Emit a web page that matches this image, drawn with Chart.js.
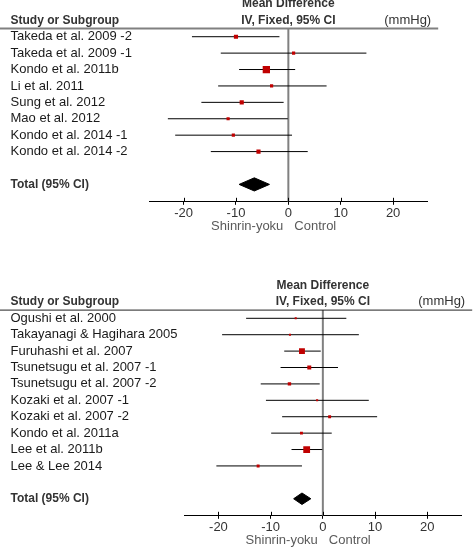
<!DOCTYPE html>
<html>
<head>
<meta charset="utf-8">
<script src="https://cdn.jsdelivr.net/npm/chart.js@4.4.0/dist/chart.umd.min.js"></script>
<style>
  body { margin: 0; background: #fff; }
  .plot { position: absolute; left: 0; }
</style>
</head>
<body>
<div class="plot" style="top:0;width:473px;height:260px"><canvas id="topPlot" width="473" height="260"></canvas></div>
<div class="plot" style="top:260px;width:473px;height:287px"><canvas id="bottomPlot" width="473" height="287"></canvas></div>
<script>
// tick labels shared by both plots
const tickVals = [-20, -10, 0, 10, 20];

// top plot
const topStudies = [
  "Takeda et al. 2009 -2", "Takeda et al. 2009 -1", "Kondo et al. 2011b", "Li et al. 2011",
  "Sung et al. 2012", "Mao et al. 2012", "Kondo et al. 2014 -1", "Kondo et al. 2014 -2"
];
const topMD = [-10.0, 1.0, -4.2, -3.2, -8.9, -11.5, -10.5, -5.7];
const topLo = [-18.4, -12.9, -9.4, -13.4, -16.6, -23.0, -21.6, -14.8];
const topHi = [-1.7, 14.9, 1.3, 7.3, -0.9, -0.1, 0.7, 3.7];
const topWeight = [12, 7, 37, 7, 12, 7, 7, 12];
const topTotal = [-6.5, -9.4, -3.6]; // estimate, lower, upper

// bottom plot
const bottomStudies = [
  "Ogushi et al. 2000", "Takayanagi & Hagihara 2005", "Furuhashi et al. 2007",
  "Tsunetsugu et al. 2007 -1", "Tsunetsugu et al. 2007 -2", "Kozaki et al. 2007 -1",
  "Kozaki et al. 2007 -2", "Kondo et al. 2011a", "Lee et al. 2011b", "Lee & Lee 2014"
];
const bottomMD = [-5.2, -6.3, -4.0, -2.6, -6.4, -1.1, 1.3, -4.1, -3.1, -12.4];
const bottomLo = [-14.7, -19.3, -7.4, -8.1, -11.9, -10.9, -7.8, -9.9, -6.0, -20.4];
const bottomHi = [4.5, 6.9, -0.4, 2.9, -0.6, 8.8, 10.4, 1.7, -0.1, -4.0];
const bottomWeight = [3, 3, 24, 11, 8, 3, 6, 6, 32, 6];
const bottomTotal = [-4.0, -5.6, -2.3];

const FONT = '"Liberation Sans", Arial, sans-serif';
Chart.defaults.font.family = FONT;

// texts, header rule and the upper half of the tick marks
const forestText = {
  id: "forestText",
  afterDraw(chart, args, opts) {
    const { ctx, chartArea, scales: { x, y } } = chart;
    const area = chartArea;
    ctx.save();

    ctx.strokeStyle = opts.ruleColor;
    ctx.lineWidth = opts.ruleWidth;
    ctx.beginPath();
    ctx.moveTo(0, area.top);
    ctx.lineTo(area.right + 10.5, area.top);
    ctx.stroke();

    ctx.strokeStyle = "#000";
    ctx.lineWidth = 1;
    tickVals.forEach((v) => {
      const px = Math.round(x.getPixelForValue(v)) + 0.5;
      ctx.beginPath();
      ctx.moveTo(px, area.bottom - 4);
      ctx.lineTo(px, area.bottom);
      ctx.stroke();
    });

    ctx.textBaseline = "middle";
    ctx.textAlign = "left";
    ctx.fillStyle = "#1a1a1a";
    ctx.font = "13px " + FONT;
    opts.studies.forEach((s, i) => ctx.fillText(s, 10.5, y.getPixelForValue(i)));

    ctx.fillStyle = "#333";
    ctx.font = "bold 12px " + FONT;
    ctx.fillText("Study or Subgroup", 10.5, y.getPixelForValue(-1));
    ctx.fillText("Total (95% CI)", 10.5, y.getPixelForValue(opts.studies.length + 1));

    const x0 = x.getPixelForValue(0);
    ctx.textAlign = "center";
    ctx.fillText("Mean Difference", x0, y.getPixelForValue(-2));
    ctx.fillText("IV, Fixed, 95% CI", x0, y.getPixelForValue(-1));

    ctx.font = "13px " + FONT;
    ctx.textAlign = "right";
    ctx.fillText("(mmHg)", area.right + 3.5, y.getPixelForValue(-1));

    ctx.fillStyle = "#5a5a5a";
    ctx.fillText("Shinrin-yoku", x0 - 5, area.bottom + 24.5);
    ctx.textAlign = "left";
    ctx.fillText("Control", x0 + 6, area.bottom + 24.5);
    ctx.restore();
  }
};

function makeForest(id, studies, md, lo, hi, weight, total, pad, yMax, diamondH, ruleColor, ruleWidth) {
  const totalRow = studies.length + 1;
  const datasets = [];

  // squares
  datasets.push({
    data: md.map((v, i) => ({ x: v, y: i })),
    showLine: false,
    pointStyle: "rect",
    pointRadius: weight.map((w) => (1.2 * Math.sqrt(w)) / Math.SQRT2),
    backgroundColor: "#c00000",
    borderColor: "#c00000",
    borderWidth: 0,
    order: 0
  });

  // confidence intervals
  studies.forEach((s, i) => {
    datasets.push({
      data: [{ x: lo[i], y: i }, { x: hi[i], y: i }],
      borderColor: "#000",
      borderWidth: 1,
      pointRadius: 0,
      order: 1
    });
  });

  // diamond: upper half filled down to lower half
  datasets.push({
    data: [
      { x: total[1], y: totalRow },
      { x: total[0], y: totalRow - diamondH },
      { x: total[2], y: totalRow }
    ],
    borderColor: "#000",
    borderWidth: 1,
    backgroundColor: "#000",
    pointRadius: 0,
    fill: "+1",
    order: 0
  });
  datasets.push({
    data: [
      { x: total[1], y: totalRow },
      { x: total[0], y: totalRow + diamondH },
      { x: total[2], y: totalRow }
    ],
    borderColor: "#000",
    borderWidth: 1,
    pointRadius: 0,
    order: 0
  });

  // line of no effect
  datasets.push({
    data: [{ x: 0, y: -0.5 }, { x: 0, y: yMax }],
    borderColor: "#808080",
    borderWidth: 2,
    pointRadius: 0,
    order: 2
  });

  return new Chart(document.getElementById(id), {
    type: "line",
    data: { datasets },
    options: {
      responsive: false,
      animation: false,
      events: [],
      layout: { padding: pad },
      scales: {
        x: {
          type: "linear",
          min: -26.6,
          max: 26.6,
          afterBuildTicks: (scale) => {
            scale.ticks = tickVals.map((v) => ({ value: v }));
          },
          grid: { display: true, drawOnChartArea: false, drawTicks: true, tickLength: 3, color: "#000" },
          border: { display: true, color: "#000", width: 1 },
          ticks: { padding: 1, color: "#333", font: { size: 13 } }
        },
        y: { type: "linear", display: false, reverse: true, min: -0.5, max: yMax }
      },
      plugins: {
        legend: { display: false },
        tooltip: { enabled: false },
        forestText: { studies, ruleColor, ruleWidth }
      }
    },
    plugins: [forestText]
  });
}

makeForest("topPlot", topStudies, topMD, topLo, topHi, topWeight, topTotal,
  { left: 149, right: 45.3, top: 28.5, bottom: 37.6 }, 10.06, 0.4, "#808080", 2);

makeForest("bottomPlot", bottomStudies, bottomMD, bottomLo, bottomHi, bottomWeight, bottomTotal,
  { left: 184, right: 11.3, top: 50.1, bottom: 10.6 }, 12.04, 0.35, "#222", 1);
</script>
</body>
</html>
